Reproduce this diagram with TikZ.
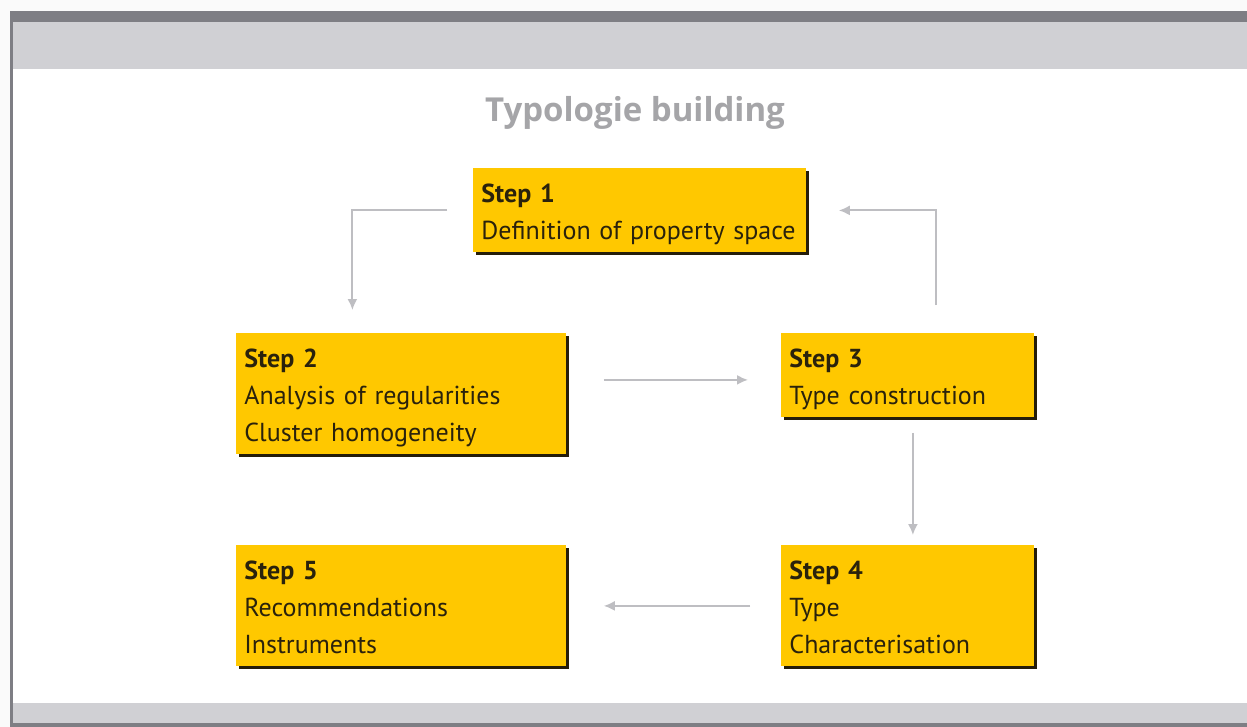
\documentclass[tikz,border=0pt]{standalone}
\usepackage{fontspec}
\setmainfont{PT Sans}[WordSpace=0.85]
\newfontfamily\titlefont{Open Sans}
\usetikzlibrary{shadows,arrows.meta}
\definecolor{stepYellow}{RGB}{255,200,0}
\definecolor{stepText}{RGB}{42,34,12}
\definecolor{barDark}{RGB}{126,126,132}
\definecolor{barLight}{RGB}{208,208,212}
\definecolor{arrowGray}{RGB}{190,190,194}
\definecolor{titleGray}{RGB}{165,165,168}
\newcommand{\stepTitle}[1]{\textbf{Step #1}}

\begin{document}
\begin{tikzpicture}[x=1pt, y=-1pt, thick,
    stepbox/.style={anchor=north west, fill=stepYellow, text=stepText, align=left,
        inner xsep=8pt, inner ysep=15pt, text height=19pt,
        font=\fontsize{26}{37}\selectfont,
        drop shadow={shadow xshift=3pt, shadow yshift=-3pt, fill=stepText!85!black, opacity=1}},
    twolines/.style={text depth=35pt},
    threelines/.style={text depth=72pt},
    flow/.style={draw=arrowGray, line width=1.9pt, -{Latex[length=11pt,width=10pt]}}]
        \useasboundingbox (0,0) rectangle (1247,727);

        \fill [white!98!black] (0,0) rectangle (1247,727);
        \fill [white] (13,69) rectangle (1247,703);
        \fill [barDark] (10,11) rectangle (1247,22);
        \fill [barLight] (12.5,22) rectangle (1247,69);
        \fill [barLight] (12.5,703) rectangle (1247,723);
        \fill [barDark] (10,723) rectangle (1247,727);
        \fill [barDark] (10,11) rectangle (12.5,727);

        \node [font=\titlefont\bfseries\fontsize{33}{38}\selectfont, text=titleGray] (title) at (635,113) {Typologie building};

        \node [stepbox, twolines, text width=317pt] (s1) at (473,168) {\stepTitle{1}\\Definition of property space};
        \node [stepbox, threelines, text width=314pt] (s2) at (236,333) {\stepTitle{2}\\Analysis of regularities\\Cluster homogeneity};
        \node [stepbox, twolines, text width=237pt] (s3) at (781,333) {\stepTitle{3}\\Type construction};
        \node [stepbox, threelines, text width=237pt] (s4) at (781,545) {\stepTitle{4}\\Type\\Characterisation};
        \node [stepbox, threelines, text width=314pt] (s5) at (236,545) {\stepTitle{5}\\Recommendations\\Instruments};

        \draw [flow] ([xshift=-26pt]s1.west) -| ([xshift=-49pt, yshift=23pt]s2.north);
        \draw [flow] ([xshift=37pt, yshift=14pt]s2.east) -- ([xshift=-33pt, yshift=-4.5pt]s3.west);
        \draw [flow] ([xshift=28pt, yshift=28pt]s3.north) |- ([xshift=32pt]s1.east);
        \draw [flow] ([xshift=5pt, yshift=-15pt]s3.south) -- ([xshift=5pt, yshift=10pt]s4.north);
        \draw [flow] ([xshift=-31pt]s4.west) -- ([xshift=37pt]s5.east);

    \end{tikzpicture}
\end{document}
